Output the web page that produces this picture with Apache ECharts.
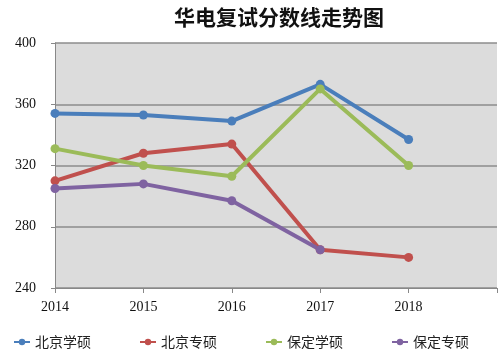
<!DOCTYPE html>
<html><head><meta charset="utf-8">
<script src="https://cdn.jsdelivr.net/npm/echarts@6/dist/echarts.min.js"></script>
<style>html,body{margin:0;padding:0;background:#fff}#c{width:500px;height:349px}</style>
</head><body><div id="c"></div>
<script>
const categories = ['2014','2015','2016','2017','2018',''];
const seriesNames = ['北京学硕','北京专硕','保定学硕','保定专硕'];
const bjXueshuo = [354, 353, 349, 373, 337, null];
const bjZhuanshuo = [310, 328, 334, 265, 260, null];
const bdXueshuo = [331, 320, 313, 370, 320, null];
const bdZhuanshuo = [305, 308, 297, 265, null, null];
const yTicks = [240, 280, 320, 360, 400];
const colors = ['#4A7EBB', '#C0504D', '#9BBB59', '#7F63A1'];
const values = [bjXueshuo, bjZhuanshuo, bdXueshuo, bdZhuanshuo];

const chart = echarts.init(document.getElementById('c'));
chart.setOption({
  animation: false,
  title: {
    text: '华电复试分数线走势图',
    left: 169, top: 2,
    textStyle: {fontFamily: 'Noto Sans CJK SC', fontSize: 21, fontWeight: 'bold', color: '#111'}
  },
  legend: {
    left: 8, top: 330,
    itemWidth: 16, itemHeight: 8, itemGap: 48,
    data: seriesNames,
    textStyle: {fontFamily: 'Noto Sans CJK SC', fontSize: 14, color: '#222'}
  },
  grid: {
    left: 55, right: 1, top: 43, bottom: 61,
    show: true, backgroundColor: '#DCDCDC', borderWidth: 0
  },
  xAxis: {
    type: 'category', data: categories, boundaryGap: false,
    axisLine: {lineStyle: {color: '#888', width: 1}},
    axisTick: {show: true, length: 5, lineStyle: {color: '#888'}},
    axisLabel: {fontFamily: 'Liberation Serif', fontSize: 14, color: '#111', margin: 12},
    splitLine: {show: false}
  },
  yAxis: {
    type: 'value', min: yTicks[0], max: yTicks[yTicks.length-1], interval: 40,
    axisLine: {show: true, lineStyle: {color: '#888', width: 1}},
    axisTick: {show: true, length: 4, lineStyle: {color: '#888'}},
    axisLabel: {fontFamily: 'Liberation Serif', fontSize: 14, color: '#111', margin: 19},
    splitLine: {show: true, lineStyle: {color: '#8C8C8C', width: 1.5}}
  },
  series: seriesNames.map((n, i) => ({
    name: n, type: 'line', data: values[i],
    symbol: 'circle', symbolSize: 9,
    lineStyle: {width: 4, color: colors[i]},
    itemStyle: {color: colors[i]},
    connectNulls: false
  }))
});
</script></body></html>
